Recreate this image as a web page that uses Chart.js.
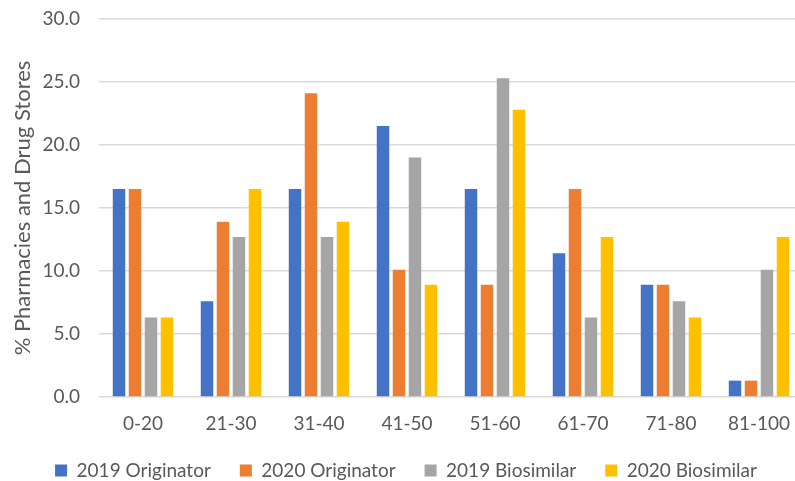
<!DOCTYPE html>
<html>
<head>
<meta charset="utf-8">
<script src="https://cdn.jsdelivr.net/npm/chart.js@4/dist/chart.umd.min.js"></script>
<style>
  html, body { margin: 0; padding: 0; background: #ffffff; overflow: hidden; }
  #wrap { width: 795px; height: 481px; overflow: hidden; }
  canvas { display: block; }
</style>
</head>
<body>
<div id="wrap"><canvas id="c" width="812" height="481"></canvas></div>
<script>
// Age bands of the pharmacies (x axis)
const categories = ['0-20', '21-30', '31-40', '41-50', '51-60', '61-70', '71-80', '81-100'];

// Share of pharmacies and drug stores in each band, per series (%)
const originator2019 = [16.5, 7.6, 16.5, 21.5, 16.5, 11.4, 8.9, 1.3];
const originator2020 = [16.5, 13.9, 24.1, 10.1, 8.9, 16.5, 8.9, 1.3];
const biosimilar2019 = [6.3, 12.7, 12.7, 19.0, 25.3, 6.3, 7.6, 10.1];
const biosimilar2020 = [6.3, 16.5, 13.9, 8.9, 22.8, 12.7, 6.3, 12.7];

const seriesNames = ['2019 Originator', '2020 Originator', '2019 Biosimilar', '2020 Biosimilar'];
const seriesColors = ['#4472C4', '#ED7D31', '#A5A5A5', '#FFC000'];
const seriesValues = [originator2019, originator2020, biosimilar2019, biosimilar2020];

const FONT = 'Lato, "Open Sans", sans-serif';
const TEXT = '#595959';

new Chart(document.getElementById('c'), {
  type: 'bar',
  data: {
    labels: categories,
    datasets: seriesValues.map((vals, i) => ({
      label: seriesNames[i],
      data: vals,
      backgroundColor: seriesColors[i],
      borderWidth: 0,
      barPercentage: 0.78,
      categoryPercentage: 0.727
    }))
  },
  options: {
    responsive: false,
    animation: false,
    layout: { padding: { top: 19, right: 9, bottom: 0, left: 9 } },
    plugins: {
      tooltip: { enabled: false },
      legend: {
        position: 'bottom',
        maxHeight: 49,
        labels: {
          boxWidth: 12,
          boxHeight: 12,
          padding: 29,
          color: TEXT,
          font: { family: FONT, size: 19 }
        }
      }
    },
    scales: {
      x: {
        grid: { display: false, drawTicks: false },
        border: { display: false },
        ticks: { color: TEXT, font: { family: FONT, size: 19 }, padding: 15 },
        afterFit: s => { s.height = 35; }
      },
      y: {
        min: 0,
        max: 30,
        ticks: {
          stepSize: 5,
          color: TEXT,
          font: { family: FONT, size: 19 },
          padding: 0,
          callback: v => v.toFixed(1)
        },
        // invisible tick marks keep the labels clear of the plot edge
        grid: { color: '#d9d9d9', lineWidth: 1.6, drawTicks: true, tickLength: 19, tickColor: 'rgba(0,0,0,0)' },
        border: { display: false },
        title: {
          display: true,
          text: '% Pharmacies and Drug Stores',
          color: TEXT,
          font: { family: FONT, size: 22 },
          padding: { top: 1, bottom: 0 }
        },
        afterFit: s => { s.width = 90; }
      }
    }
  }
});
</script>
</body>
</html>
